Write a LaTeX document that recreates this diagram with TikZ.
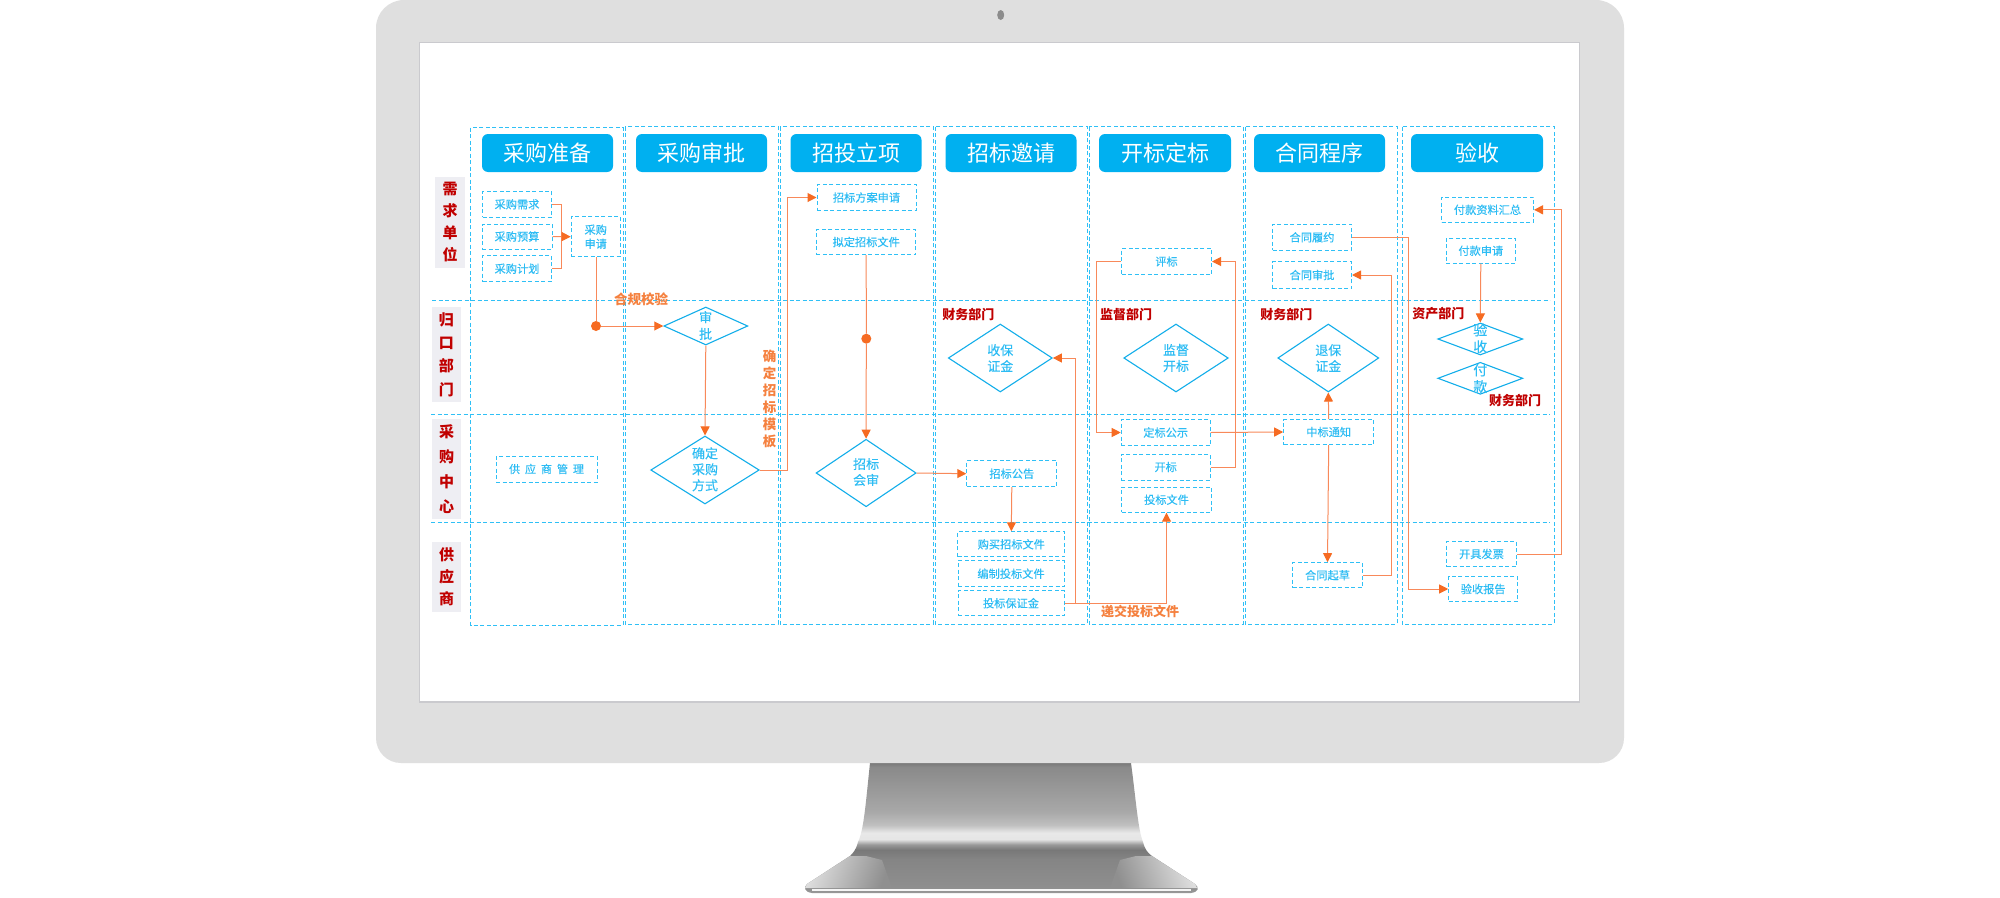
\documentclass[tikz,border=0pt]{standalone}
\usepackage{fontspec}
\setmainfont{Noto Sans CJK SC}
\newfontfamily\spaced[LetterSpace=45,FakeBold=0.2]{Noto Sans CJK SC}
\newfontfamily\boxfont[FakeBold=0.2]{Noto Sans CJK SC}
\usetikzlibrary{arrows.meta}
\usetikzlibrary{shapes.geometric}
\definecolor{bezel}{HTML}{DFDFDF}
\definecolor{screenedge}{HTML}{CACACE}
\definecolor{headblue}{HTML}{00B0F0}
\definecolor{lanecyan}{HTML}{2FC0F6}
\definecolor{boxtext}{HTML}{2CBCF4}
\definecolor{diamondblue}{HTML}{12AEEA}
\definecolor{floworange}{HTML}{F66B22}
\definecolor{flowline}{HTML}{F8895A}
\definecolor{notetext}{HTML}{F5813F}
\definecolor{deptred}{HTML}{C00000}
\definecolor{rowgray}{HTML}{EEEEF3}
\pgfdeclareverticalshading{standmetal}{100bp}{color(0bp)=(white); color(25bp)=(white!60!black); color(27bp)=(black!44); color(38bp)=(black!48); color(41.5bp)=(black!53); color(43.5bp)=(black!40); color(45.5bp)=(black!10); color(48bp)=(black!9); color(51bp)=(black!25); color(56bp)=(black!34); color(73bp)=(black!46); color(75bp)=(black!54); color(100bp)=(black!54)}
\tikzstyle{lane}=[draw=lanecyan,line width=1pt,dash pattern=on 4pt off 2.5pt]
\tikzstyle{header}=[rectangle,rounded corners=6pt,fill=headblue,text=white,inner sep=0pt,font=\fontsize{22}{24}\selectfont]
\tikzstyle{smallbox}=[rectangle,draw=lanecyan,line width=1pt,dash pattern=on 4pt off 2.5pt,text=boxtext,inner sep=0pt,align=center,font=\boxfont\fontsize{11.2}{14}\selectfont]
\tikzstyle{decision}=[diamond,draw=diamondblue,line width=1.1pt,inner sep=0pt]
\tikzstyle{decisiontext}=[text=boxtext,inner sep=0pt,align=center,font=\boxfont\fontsize{13}{16}\selectfont]
\tikzstyle{rowlabel}=[rectangle,fill=rowgray,text=deptred,inner sep=0pt,align=center]
\tikzstyle{dept}=[text=deptred,inner sep=0pt,font=\bfseries\fontsize{13}{15}\selectfont]
\tikzstyle{note}=[text=notetext,inner sep=0pt,align=center,font=\bfseries\fontsize{13.5}{17}\selectfont]
\tikzstyle{flow}=[draw=flowline,line width=1pt,-{Triangle[length=9pt,width=9pt,color=floworange]}]
\tikzstyle{plain}=[draw=flowline,line width=1pt]
\tikzstyle{joint}=[circle,fill=floworange,minimum size=10pt,inner sep=0pt]
\tikzset{boxsize/.style 2 args={minimum width=#1pt,minimum height=#2pt}}
\begin{document}
\begin{tikzpicture}[x=1pt,y=-1pt]
\useasboundingbox (0,0) rectangle (2000,897);
\fill[white] (0,0) rectangle (2000,897);
\shade[shading=standmetal] (870,762) -- (870,763) .. controls (866,800) and (864,830) .. (858,842) .. controls (856,850) and (853,853) .. (850,856) -- (807,884) .. controls (803,888) and (805,892) .. (812,893) -- (1191,893) .. controls (1198,892) and (1200,888) .. (1195,884) -- (1152,856) .. controls (1148,853) and (1145,850) .. (1143,842) .. controls (1138,830) and (1136,800) .. (1131,763) -- cycle;
\begin{scope}
\clip (850,856) -- (807,884) -- (805,888) -- (1197,888) -- (1195,884) -- (1152,856) -- cycle;
\shade[left color=black!10,right color=black!44,shading angle=70] (800,866) -- (850,852) -- (882,860) -- (892,888) -- (800,888) -- cycle;
\shade[left color=black!44,right color=black!10,shading angle=110] (1110,888) -- (1120,860) -- (1152,852) -- (1200,866) -- (1200,888) -- cycle;
\end{scope}
\fill[black!4] (812,888.5) rectangle (1191,890.5);
\fill[bezel] (376,28) arc[start angle=180,end angle=270,radius=28] -- (1596,0) arc[start angle=270,end angle=360,radius=28] -- (1624,738) arc[start angle=0,end angle=90,radius=25] -- (401,763) arc[start angle=90,end angle=180,radius=25] -- cycle;
\fill[black!45] (1000.7,15) ellipse[x radius=3.5,y radius=5];
\draw[screenedge,line width=1.6pt,fill=white] (419.5,42.5) rectangle (1579.5,702);

\foreach \xa/\xb/\ya/\yb in {470.6/623/127.7/625, 625/778/126.7/624, 780/933/126.7/624, 935/1087/126.7/624, 1089/1243/126.7/624, 1245/1397/126.7/624, 1402/1554/126.7/624}
  \draw[lane] (\xa,\ya) rectangle (\xb,\yb);
\draw[lane] (432,300.7) -- (1550,300.7);
\draw[lane] (431,414) -- (1550,414);
\draw[lane] (431,522.7) -- (1550,522.7);

\node[header,boxsize={131}{38}] at (547.5,153) (h1) {采购准备};
\node[header,boxsize={131}{38}] at (701.5,153) (h2) {采购审批};
\node[header,boxsize={131}{38}] at (856,153) (h3) {招投立项};
\node[header,boxsize={131}{38}] at (1011,153) (h4) {招标邀请};
\node[header,boxsize={132}{38}] at (1165,153) (h5) {开标定标};
\node[header,boxsize={131}{38}] at (1319.5,153) (h6) {合同程序};
\node[header,boxsize={132}{38}] at (1477,153) (h7) {验收};

\node[rowlabel,boxsize={30}{91},font=\bfseries\fontsize{15}{22}\selectfont] at (450,222.5) (r1) {需\\求\\单\\位};
\node[rowlabel,boxsize={29}{95},font=\bfseries\fontsize{15}{23.3}\selectfont] at (446.3,354.5) (r2) {归\\口\\部\\门};
\node[rowlabel,boxsize={29}{100},font=\bfseries\fontsize{15}{25}\selectfont] at (446.5,469) (r3) {采\\购\\中\\心};
\node[rowlabel,boxsize={29}{70},font=\bfseries\fontsize{15}{22}\selectfont] at (446.5,577) (r4) {供\\应\\商};

\node[smallbox,boxsize={69}{26}] at (517,204.3) (need) {采购需求};
\node[smallbox,boxsize={70}{25}] at (517,236.5) (budget) {采购预算};
\node[smallbox,boxsize={69}{26}] at (517,268.7) (plan) {采购计划};
\node[smallbox,boxsize={49}{40}] at (595.7,236.7) (apply) {采购\\申请};
\node[smallbox,boxsize={101}{26},font=\spaced\fontsize{11}{14}\selectfont] at (546.5,469) (supplier) {供应商管理};
\node[decision,boxsize={84}{38}] at (705.8,326) (approve) {};
\node[decisiontext,font=\boxfont\fontsize{13}{16.7}\selectfont] at (705.6,325.5) (approvet) {审\\批};
\node[decision,boxsize={108.5}{68}] at (705,470) (method) {};
\node[decisiontext] at (705,469.3) (methodt) {确定\\采购\\方式};
\node[smallbox,boxsize={99}{26}] at (866.5,197.5) (scheme) {招标方案申请};
\node[smallbox,boxsize={99.5}{25}] at (866.2,242) (draft) {拟定招标文件};
\node[joint] at (866.3,338.7) (dot2) {};
\node[decision,boxsize={100}{67.5}] at (866.1,473) (review) {};
\node[decisiontext] at (866.1,472) (reviewt) {招标\\会审};
\node[dept] at (968.3,314) (d1) {财务部门};
\node[decision,boxsize={104}{68}] at (1000.3,358) (deposit) {};
\node[decisiontext] at (1000.3,358) (depositt) {收保\\证金};
\node[smallbox,boxsize={90}{26}] at (1011.8,473.7) (notice) {招标公告};
\node[smallbox,boxsize={107}{25}] at (1011.3,544.3) (buy) {购买招标文件};
\node[smallbox,boxsize={106}{26}] at (1011,573.7) (prepare) {编制投标文件};
\node[smallbox,boxsize={106}{25}] at (1011,603.2) (bond) {投标保证金};
\node[smallbox,boxsize={90}{26}] at (1166.5,261.5) (evaluate) {评标};
\node[dept] at (1126,314) (d2) {监督部门};
\node[decision,boxsize={104.5}{68}] at (1176,358) (monitor) {};
\node[decisiontext] at (1176,358) (monitort) {监督\\开标};
\node[smallbox,boxsize={89}{26}] at (1165.7,432.5) (publish) {定标公示};
\node[smallbox,boxsize={89}{26}] at (1165.7,467) (opening) {开标};
\node[smallbox,boxsize={90}{25}] at (1166.5,499.7) (tender) {投标文件};
\node[smallbox,boxsize={79}{26}] at (1312,237.3) (perform) {合同履约};
\node[smallbox,boxsize={79}{27}] at (1312,275) (cappr) {合同审批};
\node[dept] at (1286.3,314) (d3) {财务部门};
\node[decision,boxsize={101}{68}] at (1328.3,358) (refund) {};
\node[decisiontext] at (1328.3,358) (refundt) {退保\\证金};
\node[smallbox,boxsize={90}{25}] at (1328.7,432) (win) {中标通知};
\node[smallbox,boxsize={70}{25}] at (1327.5,575.2) (cdraft) {合同起草};
\node[smallbox,boxsize={92}{25}] at (1487.5,209.8) (collect) {付款资料汇总};
\node[smallbox,boxsize={69}{25}] at (1480.8,250.7) (payapply) {付款申请};
\node[dept] at (1438.3,314) (d4) {资产部门};
\node[decision,boxsize={85}{32}] at (1480.3,339) (accept) {};
\node[decisiontext,font=\boxfont\fontsize{14}{16.7}\selectfont] at (1480.3,338.3) (acceptt) {验\\收};
\node[decision,boxsize={85}{32}] at (1480.3,378.3) (pay) {};
\node[decisiontext,font=\boxfont\fontsize{14}{16.7}\selectfont] at (1480.3,378.3) (payt) {付\\款};
\node[dept] at (1515,400.7) (d5) {财务部门};
\node[smallbox,boxsize={70}{25}] at (1481.5,554) (invoice) {开具发票};
\node[smallbox,boxsize={69}{25}] at (1483.2,589) (report) {验收报告};

\node[note] at (641,299) (n1) {合规校验};
\node[note] at (769.5,398.5) (n2) {确\\定\\招\\标\\模\\板};
\node[note,font=\bfseries\fontsize{13}{15}\selectfont] at (1140,612) (n3) {递交投标文件};

\node[joint] at (596,326) (dot1) {};
\coordinate (barup) at (561,204.3);
\coordinate (barlow) at (561,268.7);
\draw[plain] (need.east) -- (barup) -- (barlow) -- (plan.east);
\draw[flow] (budget.east) -- (apply.west);
\draw[plain] (apply.south -| dot1) -- (dot1);
\draw[flow] (dot1) -- (approve.west);
\draw[flow] (approve.south) -- (method.north);
\draw[flow] (method.east) -- (787.8,470) -- (787.8,197.5) -- (scheme.west);
\draw[plain] (draft.south) -- (dot2);
\draw[flow] (dot2) -- (review.north);
\draw[flow] (review.east) -- (notice.west);
\draw[flow] (notice.south) -- (buy.north);
\draw[flow] (bond.east) -- (1075,603.2) -- (1075,358) -- (deposit.east);
\draw[flow] (bond.east) -- (1166.5,603.2) -- (tender.south);
\draw[flow] (opening.east) -- (1235.7,467) -- (1235.7,261.5) -- (evaluate.east);
\draw[flow] (evaluate.west) -- (1096.3,261.5) -- (1096.3,432.5) -- (publish.west);
\draw[flow] (publish.east) -- (win.west);
\draw[flow] (win.north) -- (refund.south);
\draw[flow] (win.south) -- (cdraft.north);
\draw[flow] (cdraft.east) -- (1391.3,575.2) -- (1391.3,275) -- (cappr.east);
\draw[flow] (perform.east) -- (1408.7,237.3) -- (1408.7,589) -- (report.west);
\draw[flow] (payapply.south) -- (accept.north);
\draw[flow] (invoice.east) -- (1561.7,554) -- (1561.7,209.8) -- (collect.east);
\end{tikzpicture}
\end{document}
